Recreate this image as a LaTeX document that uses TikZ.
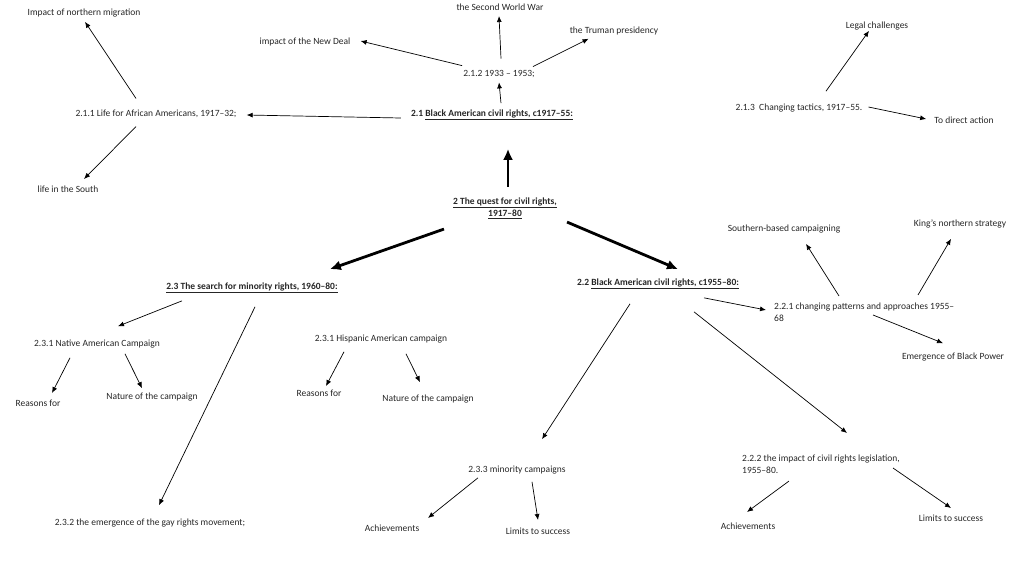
\documentclass[tikz,border=0pt]{standalone}
\usepackage{fontspec}
\setmainfont{Carlito}
\usetikzlibrary{arrows.meta}

\begin{document}
\begin{tikzpicture}[x=1pt,y=-1pt,
    topic/.style={inner sep=2pt,text=black!85,font=\fontsize{9.5}{12}\selectfont},
    head/.style={topic,font=\fontsize{9.5}{12}\selectfont\bfseries},
    arr/.style={-{Latex[length=6pt,width=5pt]},line width=0.7pt},
    bigarr/.style={-{Latex[length=11pt,width=10pt]},line width=2.8pt}]
    \useasboundingbox (0,0) rectangle (1024,576);
    % 2.1 branch
    \node[topic] (mig) at (84,13) {Impact of northern migration};
    \node[topic] (n211) at (156,114) {2.1.1 Life for African Americans, 1917–32;};
    \node[topic] (south) at (68,189) {life in the South};
    \node[topic] (war) at (500,7) {the Second World War};
    \node[topic] (deal) at (305,42) {impact of the New Deal};
    \node[topic] (truman) at (614,31) {the Truman presidency};
    \node[topic] (n212) at (499,74) {2.1.2 1933 – 1953;};
    \node[head] (n21) at (492,115) {2.1 \underline{Black American civil rights, c1917–55:}};
    \node[head,align=center] (quest) at (505,208) {\underline{2 The quest for civil rights,}\\\underline{1917–80}};
    \node[topic] (legal) at (877,26) {Legal challenges};
    \node[topic] (n213) at (799,108) {2.1.3\ \ Changing tactics, 1917–55.};
    \node[topic] (direct) at (964,120) {To direct action};
    % 2.3 branch
    \node[head] (n23) at (252,288) {\underline{2.3 The search for minority rights, 1960–80:}};
    \node[topic] (native) at (97,344) {2.3.1 Native American Campaign};
    \node[topic] (reasA) at (38,403) {Reasons for};
    \node[topic] (natA) at (152,397) {Nature of the campaign};
    \node[topic] (hisp) at (381,339) {2.3.1 Hispanic American campaign};
    \node[topic] (reasB) at (319,393) {Reasons for};
    \node[topic] (natB) at (428,399) {Nature of the campaign};
    \node[topic] (gay) at (150,523) {2.3.2 the emergence of the gay rights movement;};
    \node[topic] (n233) at (517,470) {2.3.3 minority campaigns};
    \node[topic] (achA) at (392,528) {Achievements};
    \node[topic] (limA) at (538,531) {Limits to success};
    % 2.2 branch
    \node[head] (n22) at (658,284) {2.2 \underline{Black American civil rights, c1955–80:}};
    \node[topic,anchor=west,align=left] (n221) at (772,312) {2.2.1 changing patterns and approaches 1955–\\68};
    \node[topic] (southern) at (784,229) {Southern-based campaigning};
    \node[topic] (king) at (960,224) {King’s northern strategy};
    \node[topic] (power) at (953,357) {Emergence of Black Power};
    \node[topic,anchor=west,align=left] (n222) at (740,464) {2.2.2 the impact of civil rights legislation,\\1955–80.};
    \node[topic] (achB) at (748,526) {Achievements};
    \node[topic] (limB) at (951,518) {Limits to success};
    % thick arrows from the centre
    \draw[bigarr] ([xshift=3pt,yshift=8.5pt]quest.north) -- ([xshift=16pt,yshift=-26.5pt]n21.south);
    \draw[bigarr] ([xshift=-7pt,yshift=-8.5pt]quest.south west) -- ([xshift=-10pt,yshift=11.5pt]n23.north east);
    \draw[bigarr] ([xshift=8pt,yshift=-1.5pt]quest.south east) -- ([xshift=20pt,yshift=7.5pt]n22.north);
    % 2.1
    \draw[arr] ([xshift=-20pt,yshift=9.5pt]n211.north) -- ([xshift=1pt,yshift=-2.5pt]mig.south);
    \draw[arr] ([xshift=-20pt,yshift=-6.5pt]n211.south) -- ([xshift=16pt,yshift=4.5pt]south.north);
    \draw[arr] ([xshift=-8pt,yshift=-3pt]n21.west) -- ([xshift=8pt,yshift=-1pt]n211.east);
    \draw[arr] ([xshift=9pt,yshift=4.5pt]n21.north) -- ([yshift=-2.5pt]n212.south);
    \draw[arr] ([xshift=2pt,yshift=9.5pt]n212.north) -- ([xshift=-1pt,yshift=-3.5pt]war.south);
    \draw[arr] ([xshift=1pt,yshift=2.5pt]n212.north west) -- ([xshift=8pt,yshift=1pt]deal.east);
    \draw[arr] ([xshift=-4pt,yshift=1.5pt]n212.north east) -- ([xshift=21pt,yshift=-1.5pt]truman.south west);
    \draw[arr] ([xshift=27pt,yshift=10.5pt]n213.north) -- ([xshift=-8pt,yshift=1.5pt]legal.south);
    \draw[arr] ([xshift=4pt,yshift=1pt]n213.east) -- ([xshift=-6pt,yshift=1pt]direct.west);
    % 2.3
    \draw[arr] ([xshift=-70pt,yshift=-5.5pt]n23.south) -- ([xshift=21pt,yshift=11.5pt]native.north);
    \draw[arr] ([xshift=3pt,yshift=-11.5pt]n23.south) -- ([xshift=9pt,yshift=11.5pt]gay.north);
    \draw[arr] ([xshift=-27pt,yshift=-7.5pt]native.south) -- ([xshift=14pt,yshift=4.5pt]reasA.north);
    \draw[arr] ([xshift=28pt,yshift=-3.5pt]native.south) -- ([xshift=-10pt,yshift=2.5pt]natA.north);
    \draw[arr] ([xshift=-37pt,yshift=-6.5pt]hisp.south) -- ([xshift=7pt,yshift=1.5pt]reasB.north);
    \draw[arr] ([xshift=25pt,yshift=-8.5pt]hisp.south) -- ([xshift=-8pt,yshift=10.5pt]natB.north);
    \draw[arr] ([xshift=-39pt,yshift=-1.5pt]n233.south) -- ([xshift=36pt,yshift=4.5pt]achA.north);
    \draw[arr] ([xshift=15pt,yshift=-5.5pt]n233.south) -- ([yshift=5.5pt]limA.north);
    % 2.2
    \draw[arr] ([xshift=-28pt,yshift=-12.5pt]n22.south) -- ([xshift=25pt,yshift=24.5pt]n233.north);
    \draw[arr] ([xshift=46pt,yshift=-6.5pt]n22.south) -- ([xshift=-6pt,yshift=2pt]n221.west);
    \draw[arr] ([xshift=67pt,yshift=4.5pt]n221.north west) -- ([xshift=22pt,yshift=-8.5pt]southern.south);
    \draw[arr] ([xshift=146pt,yshift=5.5pt]n221.north west) -- ([xshift=-9pt,yshift=-8.5pt]king.south);
    \draw[arr] ([xshift=101pt,yshift=-3pt]n221.west) -- ([xshift=-10pt,yshift=7.5pt]power.north);
    \draw[arr] ([xshift=36pt,yshift=-20.5pt]n22.south) -- ([xshift=107pt,yshift=19.5pt]n222.north west);
    \draw[arr] ([xshift=49pt,yshift=-5.5pt]n222.south west) -- ([xshift=-1pt,yshift=8.5pt]achB.north);
    \draw[arr] ([xshift=153pt,yshift=-4pt]n222.west) -- ([yshift=4.5pt]limB.north);
\end{tikzpicture}
\end{document}
